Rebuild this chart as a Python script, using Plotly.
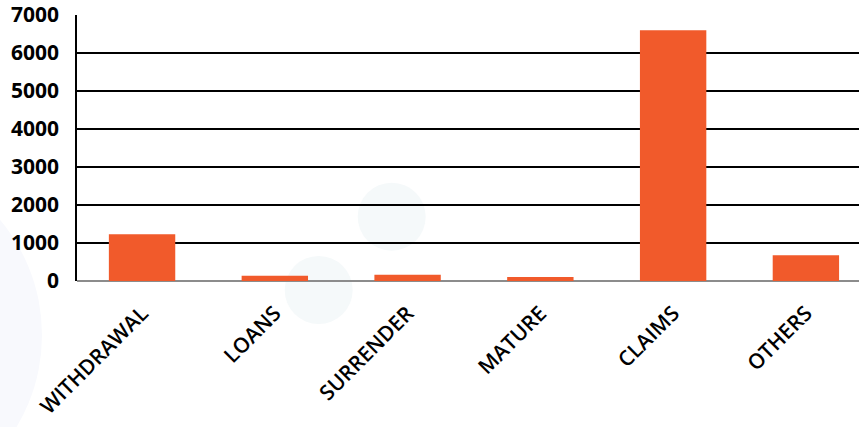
import plotly.graph_objects as go

categories = ["WITHDRAWAL", "LOANS", "SURRENDER", "MATURE", "CLAIMS", "OTHERS"]
values = [1230, 140, 165, 105, 6600, 680]
y_ticks = [0, 1000, 2000, 3000, 4000, 5000, 6000, 7000]

BAR_COLOR = "#F15A2B"

fig = go.Figure()
fig.add_trace(go.Bar(
    x=categories,
    y=values,
    marker=dict(color=BAR_COLOR, line=dict(width=0)),
    hoverinfo="x+y",
))

W, H = 859, 427
L, R, T, B = 77, 0, 15, 146
pw = W - L - R
ph = H - T - B


def px_circle(cx, cy, r, color):
    return dict(
        type="circle", xref="paper", yref="paper", layer="below",
        x0=(cx - r - L) / pw, x1=(cx + r - L) / pw,
        y0=(H - B - (cy + r)) / ph, y1=(H - B - (cy - r)) / ph,
        fillcolor=color, line=dict(width=0),
    )


shapes = [
    px_circle(-137, 335, 179, "#F8F9FD"),
    px_circle(391.7, 216.7, 34, "#F5F9FA"),
    px_circle(318.7, 290, 34, "#F5F9FA"),
]

fig.update_layout(
    width=W, height=H,
    margin=dict(l=L, r=R, t=T, b=B, pad=0, autoexpand=False),
    paper_bgcolor="white",
    plot_bgcolor="rgba(0,0,0,0)",
    showlegend=False,
    bargap=0.5,
    shapes=shapes,
    xaxis=dict(
        range=[-0.49, 5.40],
        tickangle=-45,
        tickfont=dict(family="Open Sans", size=21, color="black", weight=600),
        showgrid=False,
        showline=False,
        ticks="",
        ticklabelstandoff=15,
        automargin=False,
        fixedrange=True,
    ),
    yaxis=dict(
        range=[0, 7000],
        tickvals=y_ticks,
        ticktext=[str(v) for v in y_ticks],
        tickfont=dict(family="Open Sans", size=21, color="black", weight=700),
        showgrid=True,
        gridcolor="black",
        gridwidth=2,
        showline=True,
        linecolor="black",
        linewidth=1.5,
        zeroline=True,
        zerolinecolor="#8C8C8C",
        zerolinewidth=1.5,
        ticks="",
        ticklabelstandoff=12,
        automargin=False,
        fixedrange=True,
    ),
)

fig.write_html("out.html", config={"displayModeBar": False})
